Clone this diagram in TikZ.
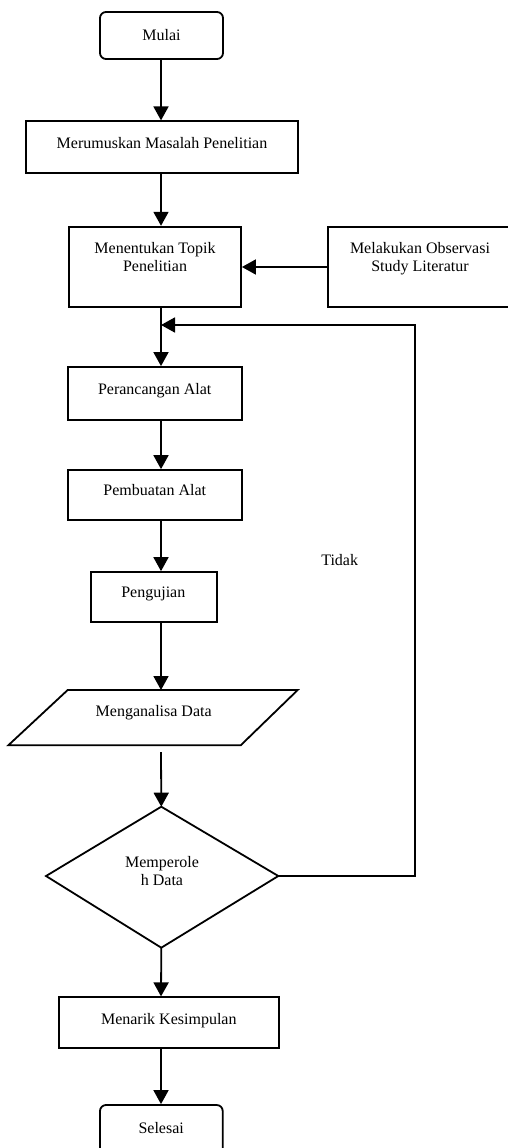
\documentclass[tikz,border=0pt]{standalone}
\usepackage{fontspec}
\setmainfont{Liberation Serif}
\usetikzlibrary{arrows.meta}
\begin{document}
\begin{tikzpicture}[x=1pt,y=-1pt,
  line width=1.8pt, line join=miter,
  box/.style={draw, line width=1.8pt, inner sep=0pt},
  rbox/.style={box, rounded corners=6pt},
  txt/.style={font=\fontsize{16}{18}\selectfont, inner sep=0pt, anchor=base, align=center},
  arr/.style={-{Triangle[length=14pt,width=15pt]}, line width=1.8pt}]
\useasboundingbox (0,0) rectangle (508,1148);
\fill[white] (0,0) rectangle (508,1148);
% axis of the main flow
\coordinate (ax) at (161,0);
% boxes
\node[rbox, minimum width=123pt, minimum height=47pt] (mulai) at (161.5,35.5) {};
\node[box, minimum width=272pt, minimum height=51.4pt] (rumus) at (161.7,147) {};
\node[box, minimum width=172pt, minimum height=80.6pt] (topik) at (155,267) {};
\node[box, minimum width=192.3pt, minimum height=80.6pt] (obs) at (423.85,267) {};
\node[box, minimum width=173.4pt, minimum height=53pt] (rancang) at (155,393.5) {};
\node[box, minimum width=173.4pt, minimum height=50.3pt] (buat) at (155,495.2) {};
\node[box, minimum width=125.7pt, minimum height=50.3pt] (uji) at (153.85,597.2) {};
\node[box, minimum width=219.7pt, minimum height=51pt] (tarik) at (169.15,1022.8) {};
\node[rbox, minimum width=122.7pt, minimum height=55pt] (selesai) at (161.35,1132.5) {};
% parallelogram
\coordinate (pTL) at (67.7,690);
\coordinate (pTR) at (297.7,690);
\coordinate (pBR) at (240.7,745.3);
\coordinate (pBL) at (8.3,745.3);
\draw (pTL) -- (pTR) -- (pBR) -- (pBL) -- cycle;
% diamond
\coordinate (dT) at (161.3,806.7);
\coordinate (dR) at (278.3,876);
\coordinate (dB) at (161.3,947.7);
\coordinate (dL) at (46,876);
\draw (dT) -- (dR) -- (dB) -- (dL) -- cycle;
% texts
\node[txt] (tmulai) at (161.5,40.5) {Mulai};
\node[txt] (trumus) at (162,148) {Merumuskan Masalah Penelitian};
\node[txt] (ttopik) at (155,271) {Menentukan Topik\\Penelitian};
\node[txt] (tobs) at (420,271) {Melakukan Observasi\\Study Literatur};
\node[txt] (trancang) at (154.7,394) {Perancangan Alat};
\node[txt] (tbuat) at (154.8,495.7) {Pembuatan Alat};
\node[txt] (tuji) at (153.3,597.7) {Pengujian};
\node[txt] (ttidak) at (339.7,565) {Tidak};
\node[txt] (tanalisa) at (153.7,716) {Menganalisa Data};
\node[txt] (tdata) at (162,885) {Memperole\\h Data};
\node[txt] (ttarik) at (168.8,1024) {Menarik Kesimpulan};
\node[txt] (tselesai) at (161.2,1133.3) {Selesai};
% connectors
\coordinate (gap) at (161,752);
\coordinate (fbR) at (415,876);
\coordinate (fbT) at (415,325);
\draw[arr] (ax |- mulai.south) -- (ax |- rumus.north);
\draw[arr] (ax |- rumus.south) -- (ax |- topik.north);
\draw[arr] (obs.west) -- (topik.east);
\draw[arr] (ax |- topik.south) -- (ax |- rancang.north);
\draw[arr] (dR) -- (fbR) -- (fbT) -- (ax |- fbT);
\draw[arr] (ax |- rancang.south) -- (ax |- buat.north);
\draw[arr] (ax |- buat.south) -- (ax |- uji.north);
\draw[arr] (ax |- uji.south) -- (ax |- pTL);
\draw[arr] (gap) -- (dT);
\draw[arr] (dB) -- (ax |- tarik.north);
\draw[arr] (ax |- tarik.south) -- (ax |- selesai.north);
\end{tikzpicture}
\end{document}
